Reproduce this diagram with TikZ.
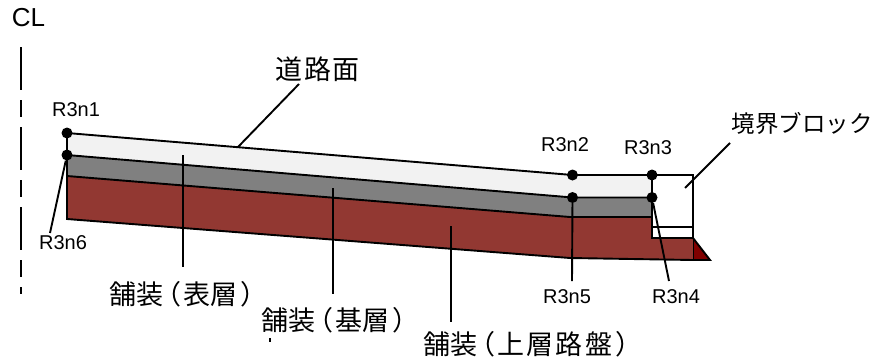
\documentclass[tikz,border=0pt]{standalone}
\usepackage{fontspec}
\setmainfont{Liberation Sans}
\newfontfamily\jp{Noto Sans CJK JP}
\newcommand{\lpar}{\kern-.33em （\kern2pt}
\newcommand{\rpar}{\kern3pt ）}
\tikzset{
 x=1pt,y=-1pt,
 outline/.style={draw=black,line width=1.9pt,line join=miter},
 leader/.style={draw=black,line width=1.9pt},
 dot/.style={circle,fill=black,inner sep=0pt,minimum size=11pt},
 rlabel/.style={font=\fontsize{20}{20}\selectfont,inner sep=0pt},
 jlabel/.style={font=\jp\fontsize{23.5}{24}\selectfont,inner sep=0pt},
 jpave/.style={font=\jp\fontsize{27}{27}\selectfont,inner sep=0pt,anchor=west},
}
\begin{document}
\begin{tikzpicture}
\useasboundingbox (0,0) rectangle (875,362);
\fill[white] (0,0) rectangle (875,362);
% points
\coordinate (a) at (67,133);
\coordinate (b) at (572.5,175);
\coordinate (c) at (652,175);
\coordinate (d) at (693,175);
\coordinate (e) at (67,155);
\coordinate (f) at (572.5,197.5);
\coordinate (g) at (652,197.5);
\coordinate (h) at (67,176);
\coordinate (i) at (570,217);
\coordinate (j) at (652,217);
\coordinate (k) at (67,219);
\coordinate (l) at (570,258);
\coordinate (m) at (693,260);
\coordinate (n) at (652,238);
\coordinate (o) at (693,238);
\coordinate (p) at (710,260);
\coordinate (q) at (652,227);
\coordinate (r) at (693,227);
% layers
\fill[fill=black!5] (a)--(b)--(c)--(g)--(f)--(e)--cycle;
\fill[fill=black!50] (e)--(f)--(g)--(j)--(i)--(h)--cycle;
\fill[fill={rgb,255:red,146;green,56;blue,50}] (h)--(i)--(j)--(n)--(o)--(m)--(l)--(k)--cycle;
\fill[fill={rgb,255:red,128;green,0;blue,0}] (o)--(p)--(m)--cycle;
\draw[outline] (a)--(b)--(d)--(o);
\draw[outline] (a)--(k)--(l)--(m);
\draw[outline] (m)--(p)--(o);
\draw[outline] (e)--(f)--(g);
\draw[outline] (h)--(i)--(j);
\draw[outline] (c)--(n)--(o);
\draw[outline] (q)--(r);
\draw[black,line width=1pt] (m)--(o);
% centre line
\coordinate (cla) at (21,47);
\coordinate (clb) at (21,294);
\draw[line width=1.9pt,dash pattern=on 43pt off 10pt on 17pt off 10pt] (cla)--(clb);
\node[font=\fontsize{26}{26}\selectfont,inner sep=0pt] (cl) at (28.5,18) {CL};
% dots
\node[dot] (n1) at (a) {};
\node[dot] (n2) at (b) {};
\node[dot] (n3) at (c) {};
\node[dot] (n4) at (g) {};
\node[dot] (n5) at (f) {};
\node[dot] (n6) at (e) {};
% labels
\node[rlabel] (l1) at (76,110) {R3n1};
\node[rlabel] (l2) at (565,145) {R3n2};
\node[rlabel] (l3) at (648,148) {R3n3};
\node[rlabel] (l4) at (676,297) {R3n4};
\node[rlabel] (l5) at (567,297) {R3n5};
\node[rlabel] (l6) at (63,243) {R3n6};
\node[jpave,anchor=center] (road) at (317.5,69) {道\kern2pt 路\kern2pt 面};
\node[jlabel] (brick) at (802,123) {境界ブロック};
\node[jpave] (t1) at (109,294) {舗装\lpar 表層\rpar};
\node[jpave] (t2) at (261,320) {舗装\lpar 基層\rpar};
\node[jpave] (t3) at (423,344) {舗装\lpar 上\kern2.3pt 層\kern2.3pt 路\kern2.3pt 盤\rpar};
% leaders
\coordinate (road-s) at (299,84);
\coordinate (road-e) at (238,147);
\coordinate (brick-s) at (730,143);
\coordinate (brick-e) at (685,188);
\coordinate (t1-s) at (183,155);
\coordinate (t1-e) at (183,267);
\coordinate (t2-s) at (333,188);
\coordinate (t2-e) at (333,294);
\coordinate (t3-s) at (451,226);
\coordinate (t3-e) at (451,322);
\coordinate (l5-e) at (572,281);
\coordinate (l4-e) at (669,281);
\coordinate (l6-e) at (50,233);
\coordinate (tk-s) at (270,338);
\coordinate (tk-e) at (270,342);
\draw[leader] (road-s)--(road-e);
\draw[leader] (brick-s)--(brick-e);
\draw[leader] (t1-s)--(t1-e);
\draw[leader] (t2-s)--(t2-e);
\draw[leader] (t3-s)--(t3-e);
\draw[leader] (n5)--(l5-e);
\draw[leader] (n4)--(l4-e);
\draw[leader] (n6)--(l6-e);
\draw[leader] (tk-s)--(tk-e);
\end{tikzpicture}
\end{document}
